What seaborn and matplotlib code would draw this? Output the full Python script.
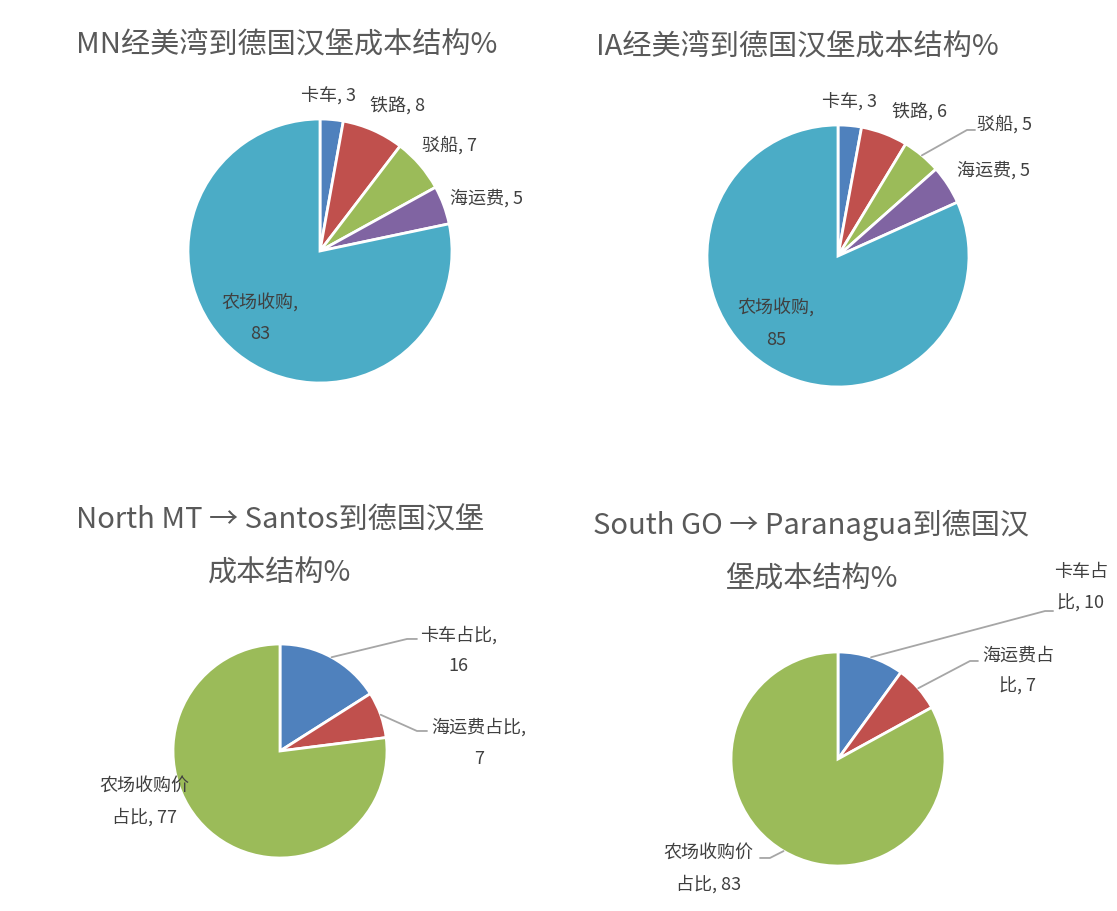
import matplotlib
matplotlib.use('Agg')
import numpy as np
import matplotlib.pyplot as plt
import seaborn as sns

# 数据
mn_names = ['卡车', '铁路', '驳船', '海运费', '农场收购']
mn_values = [3, 8, 7, 5, 83]
ia_names = ['卡车', '铁路', '驳船', '海运费', '农场收购']
ia_values = [3, 6, 5, 5, 85]
mt_names = ['卡车占比', '海运费占比', '农场收购价占比']
mt_values = [16, 7, 77]
go_names = ['卡车占比', '海运费占比', '农场收购价占比']
go_values = [10, 7, 83]

titles = ['MN经美湾到德国汉堡成本结构%',
          'IA经美湾到德国汉堡成本结构%',
          'North MT → Santos到德国汉堡\n成本结构%',
          'South GO → Paranagua到德国汉\n堡成本结构%']

sns.set_theme(style='white')
plt.rcParams['font.family'] = ['Noto Sans CJK SC', 'DejaVu Sans']

W, H = 1117, 912
pal = sns.color_palette(['#4F81BD', '#C0504D', '#9BBB59', '#8064A2', '#4BACC6'])
blue, red, green, purple, aqua = pal

# 版面：圆心/半径（像素），标签位置（以半径为单位），换行位置，引导线
layouts = [
    dict(center=(320, 252), r=132, colors=[blue, red, green, purple, aqua],
         title_xy=(287, 45),
         label_xy=[(0.064, 1.18), (0.59, 1.11), (0.98, 0.81), (1.26, 0.41), (-0.455, -0.5)],
         wrap=[None, None, None, None, 4], leaders={}),
    dict(center=(838, 257), r=131, colors=[blue, red, green, purple, aqua],
         title_xy=(797, 47),
         label_xy=[(0.09, 1.18), (0.62, 1.11), (1.27, 1.01), (1.19, 0.66), (-0.473, -0.51)],
         wrap=[None, None, None, None, 4],
         leaders={2: [(0.985, 0.962), (1.046, 0.962)]}),
    dict(center=(280, 752), r=107, colors=[blue, red, green],
         title_xy=(280, 547),
         label_xy=[(1.67, 0.95), (1.86, 0.084), (-1.27, -0.46)],
         wrap=[4, 5, 5],
         leaders={0: [(1.187, 1.047), (1.28, 1.047)], 1: [(1.28, 0.187), (1.374, 0.187)]}),
    dict(center=(838, 760), r=107, colors=[blue, red, green],
         title_xy=(811, 552),
         label_xy=[(2.27, 1.61), (1.68, 0.83), (-1.21, -1.02)],
         wrap=[3, 4, 5],
         leaders={0: [(1.935, 1.383), (2.01, 1.383)], 1: [(1.234, 0.916), (1.308, 0.916)],
                  2: [(-0.636, -0.925), (-0.729, -0.925)]}),
]


def make_label(name, value, k):
    if k is None:
        return f'{name}, {value}'
    if k >= len(name):
        return f'{name},\n{value}'
    return f'{name[:k]}\n{name[k:]}, {value}'


def draw_pie(fig, names, values, title, cfg):
    cx, cy = cfg['center']
    r = cfg['r']
    ax = fig.add_axes([(cx - r) / W, (H - cy - r) / H, 2 * r / W, 2 * r / H])
    wedges, _ = ax.pie(values, colors=cfg['colors'], startangle=90, counterclock=False,
                       radius=1, wedgeprops=dict(edgecolor='white', linewidth=2))
    ax.set_xlim(-1, 1)
    ax.set_ylim(-1, 1)
    ax.set_aspect('equal')
    ax.axis('off')
    for i, (name, value) in enumerate(zip(names, values)):
        lx, ly = cfg['label_xy'][i]
        ax.text(lx, ly, make_label(name, value, cfg['wrap'][i]), ha='center', va='center',
                fontsize=13, color='#404040', linespacing=1.9, fontweight='light',
                clip_on=False)
        if i in cfg['leaders']:
            w = wedges[i]
            mid = np.deg2rad((w.theta1 + w.theta2) / 2)
            pts = [(np.cos(mid), np.sin(mid))] + cfg['leaders'][i]
            xs, ys = zip(*pts)
            ax.plot(xs, ys, color='#A6A6A6', lw=1.3, clip_on=False)
    tx, ty = cfg['title_xy']
    fig.text(tx / W, 1 - ty / H, title, ha='center', va='center', fontsize=21,
             color='#595959', linespacing=2.0, fontweight='light')


fig = plt.figure(figsize=(W / 100, H / 100), dpi=100)
all_names = [mn_names, ia_names, mt_names, go_names]
all_values = [mn_values, ia_values, mt_values, go_values]
for names, values, title, cfg in zip(all_names, all_values, titles, layouts):
    draw_pie(fig, names, values, title, cfg)

fig.savefig('out.png', dpi=100, facecolor='white')
